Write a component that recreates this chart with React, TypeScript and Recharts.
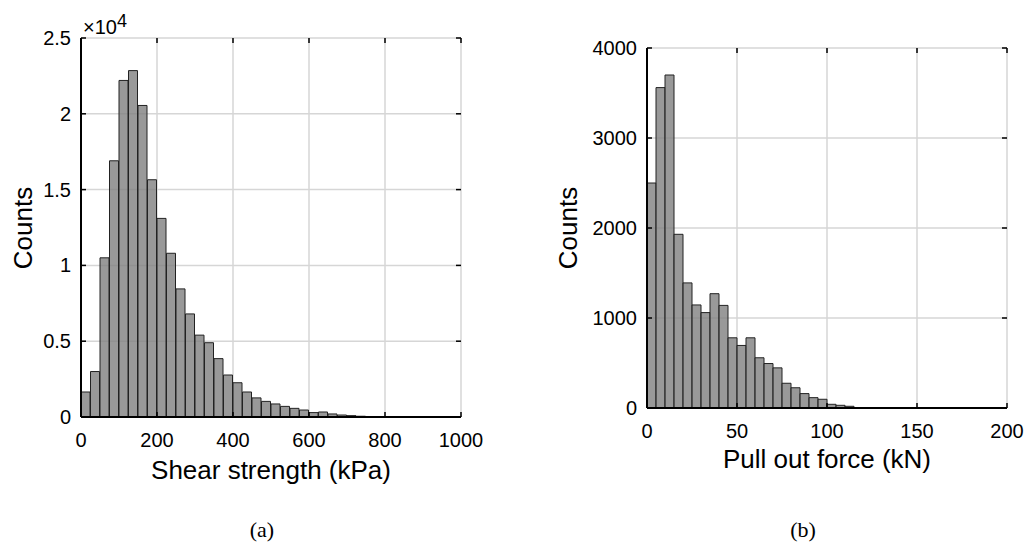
import { BarChart, Bar, XAxis, YAxis, CartesianGrid } from 'recharts';

// ============================================================================
// Data
// ============================================================================

// (a) shear strength, 25 kPa bins from 0 to 1000
const shearBinWidth = 25;
const shearCounts = [
  1650, 3000, 10500, 16900, 22200, 22850, 20550, 15650, 13100, 10800,
  8450, 6800, 5400, 4900, 3850, 2770, 2260, 1650, 1260, 1030,
  860, 700, 570, 460, 290, 330, 200, 130, 90, 50,
  30, 20, 10, 5, 0, 0, 0, 0, 0, 0,
];
const shearXTicks = [0, 200, 400, 600, 800, 1000];
const shearYTicks = [0, 5000, 10000, 15000, 20000, 25000];

// (b) pull out force, 5 kN bins from 0 to 200
const pullBinWidth = 5;
const pullCounts = [
  2500, 3560, 3700, 1930, 1390, 1145, 1060, 1270, 1140, 780,
  695, 780, 558, 494, 446, 275, 225, 160, 115, 97,
  41, 30, 19, 0, 0, 0, 0, 0, 0, 0,
  0, 0, 0, 0, 0, 0, 0, 0, 0, 0,
];
const pullXTicks = [0, 50, 100, 150, 200];
const pullYTicks = [0, 1000, 2000, 3000, 4000];

const FONT = '"Liberation Sans", Arial, Helvetica, sans-serif';
const SERIF = '"Liberation Serif", "DejaVu Serif", serif';
const BOX = { stroke: '#000', strokeWidth: 2 };

// ============================================================================
// Histogram panel
// ============================================================================

interface HistProps {
  counts: number[];
  binWidth: number;
  xTicks: number[];
  yTicks: number[];
  yFormat: (v: number) => string;
  width: number;
  height: number;
  margin: { top: number; right: number; bottom: number; left: number };
  yAxisWidth: number;
  xAxisHeight: number;
}

function Histogram(p: HistProps) {
  const data = p.counts.map((count, i) => ({ mid: i * p.binWidth + p.binWidth / 2, count }));
  const xMax = p.xTicks[p.xTicks.length - 1];
  const yMax = p.yTicks[p.yTicks.length - 1];

  const plotLeft = p.margin.left + p.yAxisWidth;
  const plotRight = p.width - p.margin.right;
  const plotTop = p.margin.top;
  const plotBottom = p.height - p.margin.bottom - p.xAxisHeight;

  // MATLAB style: ticks point inward, on both sides of the box
  const renderXTick = (props: any) => {
    const { x, payload } = props;
    return (
      <g>
        <line x1={x} x2={x} y1={plotBottom} y2={plotBottom - 5} stroke="#000" strokeWidth={1.5} />
        <line x1={x} x2={x} y1={plotTop} y2={plotTop + 5} stroke="#000" strokeWidth={1.5} />
        <text x={x} y={plotBottom + 30} textAnchor="middle" fontSize={20} fill="#000" fontFamily={FONT}>
          {payload.value}
        </text>
      </g>
    );
  };

  const renderYTick = (props: any) => {
    const { y, payload } = props;
    return (
      <g>
        <line x1={plotLeft} x2={plotLeft + 5} y1={y} y2={y} stroke="#000" strokeWidth={1.5} />
        <line x1={plotRight} x2={plotRight - 5} y1={y} y2={y} stroke="#000" strokeWidth={1.5} />
        <text x={plotLeft - 10} y={y + 7} textAnchor="end" fontSize={20} fill="#000" fontFamily={FONT}>
          {p.yFormat(payload.value)}
        </text>
      </g>
    );
  };

  return (
    <BarChart width={p.width} height={p.height} data={data} margin={p.margin} barCategoryGap={0} barGap={0}>
      <CartesianGrid stroke="#d6d6d6" strokeWidth={1.5} />
      <XAxis
        dataKey="mid"
        type="number"
        domain={[0, xMax]}
        ticks={p.xTicks}
        interval={0}
        allowDataOverflow
        axisLine={BOX}
        tickLine={false}
        tick={renderXTick}
        height={p.xAxisHeight}
      />
      {/* top edge of the box */}
      <XAxis
        xAxisId="top"
        orientation="top"
        dataKey="mid"
        type="number"
        domain={[0, xMax]}
        allowDataOverflow
        axisLine={BOX}
        tickLine={false}
        tick={false}
        height={0}
      />
      <YAxis
        domain={[0, yMax]}
        ticks={p.yTicks}
        interval={0}
        allowDataOverflow
        axisLine={BOX}
        tickLine={false}
        tick={renderYTick}
        width={p.yAxisWidth}
      />
      {/* right edge of the box */}
      <YAxis
        yAxisId="right"
        orientation="right"
        domain={[0, yMax]}
        allowDataOverflow
        axisLine={BOX}
        tickLine={false}
        tick={false}
        width={0}
      />
      <Bar
        dataKey="count"
        fill="#808080"
        fillOpacity={0.8}
        stroke="#222"
        strokeWidth={1}
        isAnimationActive={false}
      />
    </BarChart>
  );
}

export default function App() {
  return (
    <div
      style={{
        position: 'absolute',
        left: 0,
        top: 0,
        width: 1030,
        height: 545,
        background: '#fff',
        fontFamily: FONT,
      }}
    >
      <div style={{ position: 'absolute', left: 0, top: 0 }}>
        <Histogram
          counts={shearCounts}
          binWidth={shearBinWidth}
          xTicks={shearXTicks}
          yTicks={shearYTicks}
          yFormat={(v) => String(v / 10000)}
          width={500}
          height={460}
          margin={{ top: 38, right: 39, bottom: 0, left: 0 }}
          yAxisWidth={81}
          xAxisHeight={43}
        />
      </div>
      <div style={{ position: 'absolute', left: 520, top: 0 }}>
        <Histogram
          counts={pullCounts}
          binWidth={pullBinWidth}
          xTicks={pullXTicks}
          yTicks={pullYTicks}
          yFormat={(v) => String(v)}
          width={510}
          height={450}
          margin={{ top: 48, right: 23, bottom: 0, left: 0 }}
          yAxisWidth={127}
          xAxisHeight={42}
        />
      </div>
      <svg
        width={1030}
        height={545}
        style={{ position: 'absolute', left: 0, top: 0, pointerEvents: 'none' }}
      >
        <text x={83} y={34} fontSize={20} fontFamily={FONT} fill="#000">
          ×10
          <tspan dy={-7} fontSize={18}>4</tspan>
        </text>
        <text x={271} y={479} textAnchor="middle" fontSize={26} fontFamily={FONT} fill="#000">
          Shear strength (kPa)
        </text>
        <text x={827} y={468} textAnchor="middle" fontSize={26} fontFamily={FONT} fill="#000">
          Pull out force (kN)
        </text>
        <text x={32} y={228} transform="rotate(-90 32 228)" textAnchor="middle" fontSize={26} fontFamily={FONT} fill="#000">
          Counts
        </text>
        <text x={577} y={228} transform="rotate(-90 577 228)" textAnchor="middle" fontSize={26} fontFamily={FONT} fill="#000">
          Counts
        </text>
        <text x={262} y={537} textAnchor="middle" fontSize={22} fontFamily={SERIF} fill="#000">
          (a)
        </text>
        <text x={803} y={537} textAnchor="middle" fontSize={22} fontFamily={SERIF} fill="#000">
          (b)
        </text>
      </svg>
    </div>
  );
}
